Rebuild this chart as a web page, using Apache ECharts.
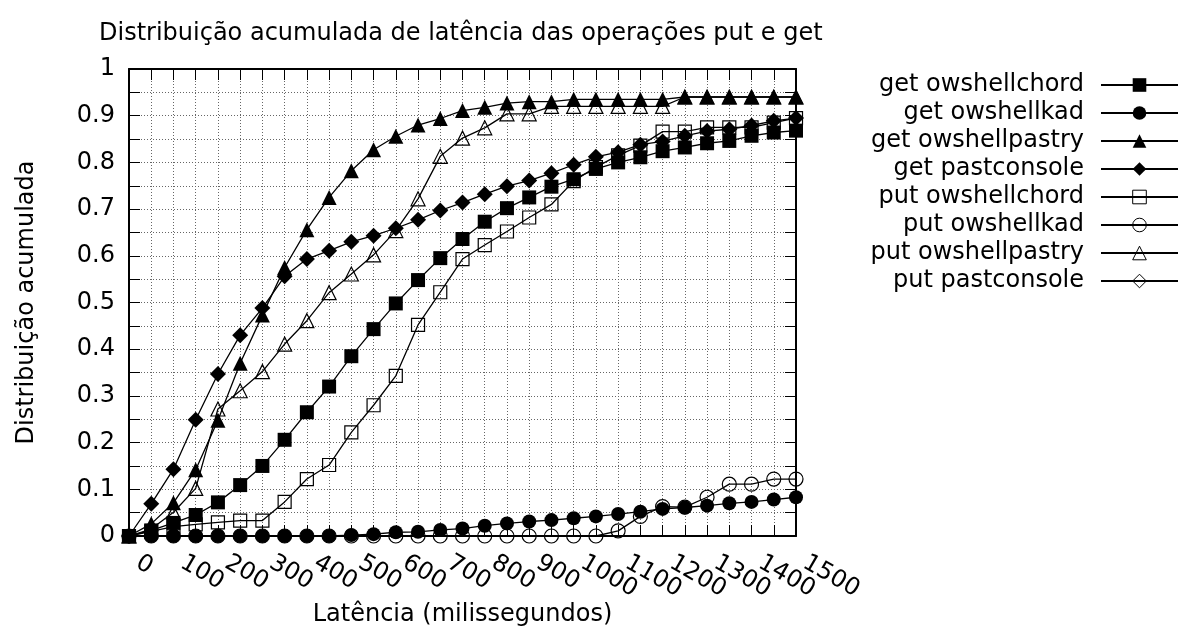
<!DOCTYPE html>
<html><head><meta charset="utf-8">
<script src="https://cdn.jsdelivr.net/npm/echarts@6/dist/echarts.min.js"></script>
<style>html,body{margin:0;padding:0;background:#fff}#c{width:1179px;height:632px}</style>
</head><body><div id="c"></div>
<script>
const latency = [0,50,100,150,200,250,300,350,400,450,500,550,600,650,700,750,800,850,900,950,1000,1050,1100,1150,1200,1250,1300,1350,1400,1450,1500];
const getOwshellchord = [0,0.012,0.028,0.045,0.072,0.109,0.15,0.206,0.265,0.32,0.385,0.443,0.498,0.548,0.595,0.636,0.673,0.702,0.725,0.748,0.764,0.786,0.80,0.811,0.824,0.832,0.841,0.846,0.857,0.864,0.868];
const getOwshellkad = [0,0,0,0,0,0,0,0,0,0,0.002,0.004,0.008,0.009,0.013,0.016,0.022,0.027,0.031,0.034,0.038,0.042,0.047,0.052,0.058,0.061,0.065,0.07,0.073,0.078,0.083];
const getOwshellpastry = [0,0.026,0.071,0.142,0.248,0.37,0.473,0.575,0.656,0.725,0.782,0.827,0.856,0.88,0.894,0.911,0.918,0.927,0.93,0.93,0.935,0.935,0.935,0.935,0.935,0.94,0.94,0.94,0.94,0.94,0.94];
const getPastconsole = [0,0.069,0.143,0.249,0.347,0.43,0.488,0.556,0.593,0.611,0.63,0.643,0.659,0.677,0.697,0.714,0.732,0.749,0.761,0.777,0.795,0.812,0.822,0.838,0.845,0.857,0.867,0.871,0.879,0.889,0.895];
const putOwshellchord = [0,0.01,0.02,0.025,0.029,0.033,0.033,0.073,0.122,0.152,0.222,0.28,0.343,0.452,0.522,0.593,0.623,0.652,0.682,0.71,0.76,0.79,0.815,0.836,0.866,0.866,0.875,0.875,0.875,0.885,0.895];
const putOwshellkad = [0,0,0,0,0,0,0,0,0,0,0,0,0,0,0,0,0,0,0,0,0,0,0.011,0.042,0.063,0.062,0.083,0.111,0.111,0.122,0.122];
const putOwshellpastry = [0,0.015,0.051,0.102,0.272,0.311,0.352,0.411,0.461,0.521,0.561,0.602,0.654,0.722,0.813,0.852,0.874,0.904,0.904,0.92,0.92,0.92,0.92,0.92,0.92,0.94,0.94,0.94,0.94,0.94,0.94];
const putPastconsole = [];
const seriesNames = ['get owshellchord','get owshellkad','get owshellpastry','get pastconsole','put owshellchord','put owshellkad','put owshellpastry','put pastconsole'];
const titleText = 'Distribuição acumulada de latência das operações put e get';
const xName = 'Latência (milissegundos)';
const yName = 'Distribuição acumulada';

const FONT = 'DejaVu Sans';
const FS = 24;
const chart = echarts.init(document.getElementById('c'), null, {renderer: 'canvas'});

function mk(name, vals, symbol, size, filled) {
  return {
    name: name, type: 'line',
    data: vals.map((v, i) => [latency[i], v]),
    symbol: symbol, symbolSize: size, showAllSymbol: true,
    lineStyle: {color: '#000', width: 1.3},
    itemStyle: filled ? {color: '#000'} : {color: 'rgba(0,0,0,0)', borderColor: '#000', borderWidth: 1.2},
    emphasis: {disabled: true},
    animation: false
  };
}

const gridLine = {show: true, lineStyle: {color: '#666', width: 1, type: [1, 2]}};
const tick = {show: true, inside: true, length: 11, lineStyle: {color: '#000', width: 1}};
const axLine = {show: true, onZero: false, lineStyle: {color: '#000', width: 2}};

chart.setOption({
  animation: false,
  backgroundColor: '#fff',
  textStyle: {fontFamily: FONT, color: '#000'},
  title: {text: titleText, left: 99, top: 22, padding: 0,
    textStyle: {fontFamily: FONT, fontSize: FS, fontWeight: 'normal', color: '#000'}},
  grid: {left: 129, right: 383, top: 69, bottom: 96, containLabel: false, outerBoundsMode: 'none'},
  legend: {
    orient: 'vertical', right: 0, top: 73, align: 'right', padding: 0,
    itemWidth: 77, itemHeight: 17, itemGap: 4,
    textStyle: {fontFamily: FONT, fontSize: FS, color: '#000', lineHeight: 23, padding: [0, 12, 0, 0]},
    itemStyle: {borderWidth: 1},
    data: seriesNames
  },
  xAxis: [{
    type: 'value', min: 0, max: 1500, interval: 50, position: 'bottom',
    name: xName, nameLocation: 'middle', nameGap: 67, nameMoveOverlap: false,
    nameTextStyle: {fontFamily: FONT, fontSize: FS, color: '#000'},
    axisLine: axLine, axisTick: tick, splitLine: gridLine,
    axisLabel: {show: true, rotate: -30, margin: 20, padding: [0, 0, 0, 10], fontFamily: FONT, fontSize: FS, color: '#000',
      formatter: v => (v % 100 === 0 ? String(v) : '')}
  }, {
    type: 'value', min: 0, max: 1500, interval: 50, position: 'top',
    axisLine: axLine, axisTick: tick, splitLine: {show: false}, axisLabel: {show: false}
  }],
  yAxis: [{
    type: 'value', min: 0, max: 1, interval: 0.05, position: 'left',
    name: yName, nameLocation: 'middle', nameGap: 90, nameMoveOverlap: false,
    nameTextStyle: {fontFamily: FONT, fontSize: FS, color: '#000'},
    axisLine: axLine, axisTick: tick, splitLine: gridLine,
    axisLabel: {show: true, margin: 14, fontFamily: FONT, fontSize: FS, color: '#000',
      formatter: v => { const k = Math.round(v * 100); if (k % 10 !== 0) return ''; if (k === 0) return '0'; if (k === 100) return '1'; return (k / 100).toString(); }}
  }, {
    type: 'value', min: 0, max: 1, interval: 0.05, position: 'right',
    axisLine: axLine, axisTick: tick, splitLine: {show: false}, axisLabel: {show: false}
  }],
  series: [
    mk(seriesNames[0], getOwshellchord, 'rect', 14, true),
    mk(seriesNames[1], getOwshellkad, 'circle', 14, true),
    mk(seriesNames[2], getOwshellpastry, 'triangle', 15, true),
    mk(seriesNames[3], getPastconsole, 'diamond', 16, true),
    mk(seriesNames[4], putOwshellchord, 'rect', 13, false),
    mk(seriesNames[5], putOwshellkad, 'circle', 14, false),
    mk(seriesNames[6], putOwshellpastry, 'triangle', 14, false),
    mk(seriesNames[7], putPastconsole, 'diamond', 15, false)
  ]
});
</script>
</body></html>
